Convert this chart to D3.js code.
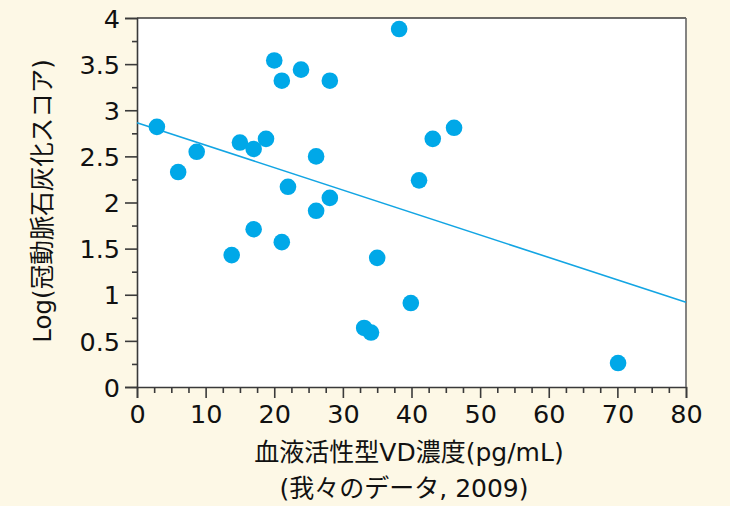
<!DOCTYPE html>
<html><head><meta charset="utf-8">
<script src="https://cdn.jsdelivr.net/npm/d3@7"></script>
<style>
html,body{margin:0;padding:0;background:#fdf8e6;}
svg{display:block;}
</style></head>
<body>
<script>
// Data
const vdConc = [2.9, 6.0, 8.7, 13.8, 15.0, 17.0, 17.0, 18.8, 20.0, 21.1, 21.1, 22.0, 23.9, 26.1, 26.1, 28.1, 28.1, 33.1, 34.1, 35.0, 38.2, 39.9, 41.1, 43.1, 46.2, 70.1];
const logCac = [2.82, 2.33, 2.55, 1.43, 2.65, 2.58, 1.71, 2.69, 3.54, 3.32, 1.57, 2.17, 3.44, 2.50, 1.91, 3.32, 2.05, 0.64, 0.59, 1.40, 3.88, 0.91, 2.24, 2.69, 2.81, 0.26];
const trendX = [0, 80];
const trendY = [2.865, 0.918];
const xTicks = [0, 10, 20, 30, 40, 50, 60, 70, 80];
const yTicks = [0, 0.5, 1, 1.5, 2, 2.5, 3, 3.5, 4];
const xTitle = "血液活性型VD濃度(pg/mL)";
const xSubTitle = "(我々のデータ, 2009)";
const yTitle = "Log(冠動脈石灰化スコア)";

const W = 730, H = 506;
const m = {left: 137, top: 18, right: 686, bottom: 387};
const svg = d3.select("body").append("svg").attr("width", W).attr("height", H);
svg.append("rect").attr("width", W).attr("height", H).attr("fill", "#fdf8e6");

const x = d3.scaleLinear().domain([0, 80]).range([m.left, m.right]);
const y = d3.scaleLinear().domain([0, 4]).range([m.bottom, m.top]);

svg.append("rect").attr("x", m.left).attr("y", m.top)
  .attr("width", m.right - m.left).attr("height", m.bottom - m.top).attr("fill", "#fff");

const numFont = "'DejaVu Sans', sans-serif";
const cjkFont = "'DejaVu Sans', 'Noto Sans CJK JP', sans-serif";
const axColor = "#3a3a3a";

// minor ticks
const xMinor = d3.range(0, 80.01, 2.5).filter(v => v % 10 !== 0);
const yMinor = d3.range(0, 4.01, 0.25).filter(v => Math.abs(v * 2 - Math.round(v * 2)) > 1e-6);

const xAxisMinor = d3.axisBottom(x).tickValues(xMinor).tickSize(6).tickFormat("");
const xAxis = d3.axisBottom(x).tickValues(xTicks).tickSize(11).tickPadding(6).tickFormat(d3.format("d"));
const yAxisMinor = d3.axisLeft(y).tickValues(yMinor).tickSize(5).tickFormat("");
const yAxis = d3.axisLeft(y).tickValues(yTicks).tickSize(12).tickPadding(5).tickFormat(d => String(d));

function style(g){
  g.selectAll("path,line").attr("stroke", axColor).attr("stroke-width", 1.6);
  g.selectAll("text").attr("font-family", numFont).attr("font-size", 25.5).attr("fill", "#111");
}
svg.append("g").attr("transform", `translate(0,${m.bottom})`).call(xAxisMinor).call(style).select(".domain").remove();
svg.append("g").attr("transform", `translate(0,${m.bottom})`).call(xAxis).call(style)
  .selectAll("text").attr("dy", "0.74em");
svg.append("g").attr("transform", `translate(${m.left},0)`).call(yAxisMinor).call(style).select(".domain").remove();
const ya = svg.append("g").attr("transform", `translate(${m.left},0)`).call(yAxis).call(style);
ya.selectAll("text").attr("dy", "0.36em");

// top and right frame
svg.append("line").attr("x1", m.left).attr("x2", m.right).attr("y1", m.top).attr("y2", m.top)
  .attr("stroke", axColor).attr("stroke-width", 1.6);
svg.append("line").attr("x1", m.right).attr("x2", m.right).attr("y1", m.top).attr("y2", m.bottom)
  .attr("stroke", "#666").attr("stroke-width", 1.6);

// trend line
svg.append("line")
  .attr("x1", x(trendX[0])).attr("y1", y(trendY[0]))
  .attr("x2", x(trendX[1])).attr("y2", y(trendY[1]))
  .attr("stroke", "#13a5e3").attr("stroke-width", 1.6);

// points
svg.append("g").selectAll("circle").data(vdConc.map((v, i) => [v, logCac[i]])).join("circle")
  .attr("cx", d => x(d[0])).attr("cy", d => y(d[1])).attr("r", 8.3).attr("fill", "#00a8e8");

// titles
svg.append("text").attr("x", 409).attr("y", 461).attr("text-anchor", "middle")
  .attr("font-family", cjkFont).attr("font-size", 25).attr("fill", "#111")
  .text(xTitle);
svg.append("text").attr("x", 404).attr("y", 497).attr("text-anchor", "middle")
  .attr("font-family", cjkFont).attr("font-size", 25).attr("fill", "#111")
  .text(xSubTitle);
svg.append("text").attr("transform", "translate(51,201) rotate(-90)").attr("text-anchor", "middle")
  .attr("font-family", cjkFont).attr("font-size", 24.5).attr("fill", "#111")
  .text(yTitle);
</script>
</body></html>
